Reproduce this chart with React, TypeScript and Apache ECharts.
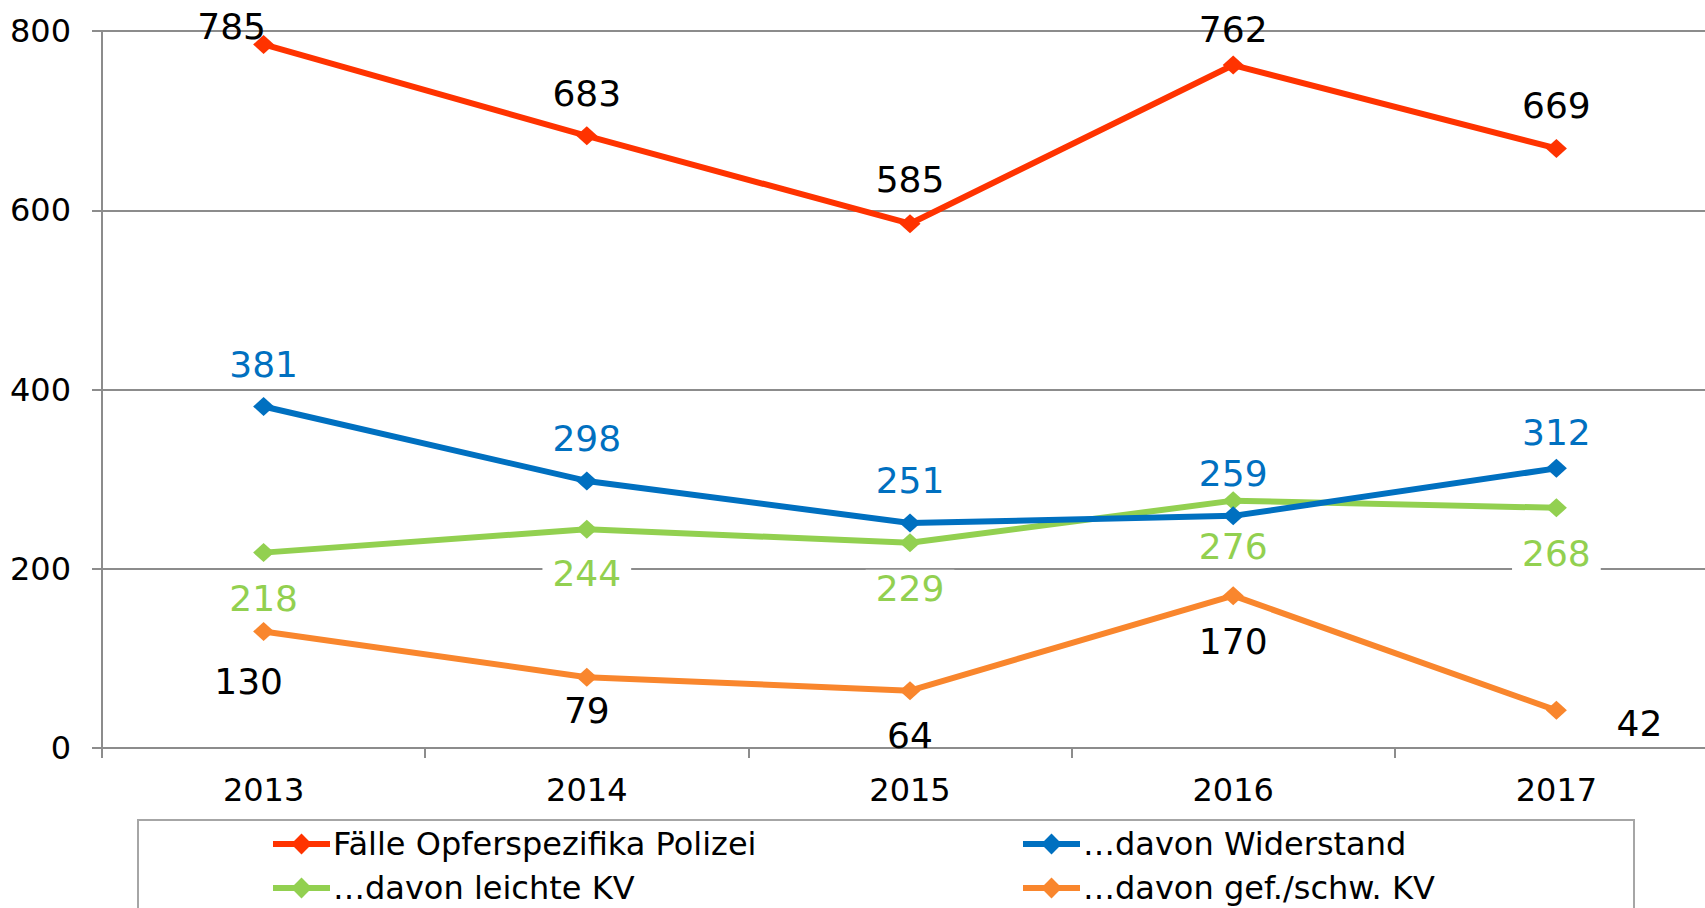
import React, { useEffect, useRef } from "react";
import * as echarts from "echarts";

const years = ["2013", "2014", "2015", "2016", "2017"];
const faelle = [785, 683, 585, 762, 669];
const widerstand = [381, 298, 251, 259, 312];
const leichteKV = [218, 244, 229, 276, 268];
const gefSchwKV = [130, 79, 64, 170, 42];

const seriesNames = [
  "Fälle Opferspezifika Polizei",
  "…davon Widerstand",
  "…davon leichte KV",
  "…davon gef./schw. KV",
];

const colors = ["#FF3300", "#0070C0", "#92D050", "#F9862D"];
const labelColors = ["#000000", "#0070C0", "#92D050", "#000000"];

// label offsets (dx, dy) relative to the point
const offsets = [
  [[-32, -18], [0, -42], [0, -44], [0, -36], [0, -43]],
  [[0, -42], [0, -42], [0, -43], [0, -42], [0, -36]],
  [[0, 46], [0, 44], [0, 46], [0, 46], [0, 46]],
  [[-15, 50], [0, 33], [0, 45], [0, 46], [83, 13]],
];

// legend placement: [left, top]
const legendPos = [
  [270, 828],
  [1020, 828],
  [270, 872],
  [1020, 872],
];

const FONT = "DejaVu Sans";

export default function App() {
  const ref = useRef<HTMLDivElement>(null);
  useEffect(() => {
    if (!ref.current) return;
    const chart = echarts.init(ref.current, undefined, { renderer: "svg" });
    const all = [faelle, widerstand, leichteKV, gefSchwKV];
    const series = all.map((vals, si) => ({
      name: seriesNames[si],
      type: "line",
      data: vals.map((v, i) => ({
        value: v,
        label: {
          offset: offsets[si][i],
        },
      })),
      symbol: "diamond",
      symbolSize: [21, 19],
      itemStyle: { color: colors[si] },
      lineStyle: { color: colors[si], width: 6 },
      z: 10 - si,
      label: {
        show: true,
        position: "inside",
        fontFamily: FONT,
        fontSize: 36,
        color: labelColors[si],
        ...(si === 2
          ? { backgroundColor: "#ffffff", padding: [0, 10], lineHeight: 38 }
          : {}),
      },
    }));
    const legends = seriesNames.map((n, i) => ({
      orient: "horizontal",
      left: legendPos[i][0],
      top: legendPos[i][1],
      itemWidth: 57,
      itemHeight: 26,
      itemGap: 0,
      padding: 0,
      lineStyle: { width: 6 },
      textStyle: { fontFamily: FONT, fontSize: 32, color: "#000", padding: [0, 0, 0, -2] },
      data: [n],
    }));
    chart.setOption({
      animation: false,
      backgroundColor: "#ffffff",
      textStyle: { fontFamily: FONT },
      grid: {
        left: 102,
        width: 1616,
        top: 31,
        height: 717,
        containLabel: false,
        outerBoundsMode: "none",
      },
      xAxis: {
        type: "category",
        data: years,
        boundaryGap: true,
        axisLine: { lineStyle: { color: "#8c8c8c", width: 2 } },
        axisTick: { show: true, length: 10, lineStyle: { color: "#8c8c8c", width: 2 } },
        axisLabel: { fontFamily: FONT, fontSize: 32, color: "#000", margin: 26 },
      },
      yAxis: {
        type: "value",
        min: 0,
        max: 800,
        interval: 200,
        axisLine: { show: true, lineStyle: { color: "#8c8c8c", width: 2 } },
        axisTick: { show: true, length: 10, lineStyle: { color: "#8c8c8c", width: 2 } },
        splitLine: { show: true, lineStyle: { color: "#8c8c8c", width: 2 } },
        axisLabel: { fontFamily: FONT, fontSize: 32, color: "#000", margin: 31 },
      },
      legend: legends,
      graphic: [
        {
          type: "rect",
          shape: { x: 138, y: 820, width: 1496, height: 110 },
          style: { fill: "none", stroke: "#a6a6a6", lineWidth: 2 },
          silent: true,
          z: 0,
        },
      ],
      series,
    });
    return () => chart.dispose();
  }, []);
  return (
    <div
      ref={ref}
      style={{ position: "absolute", left: 0, top: 0, width: 1705, height: 908 }}
    />
  );
}
